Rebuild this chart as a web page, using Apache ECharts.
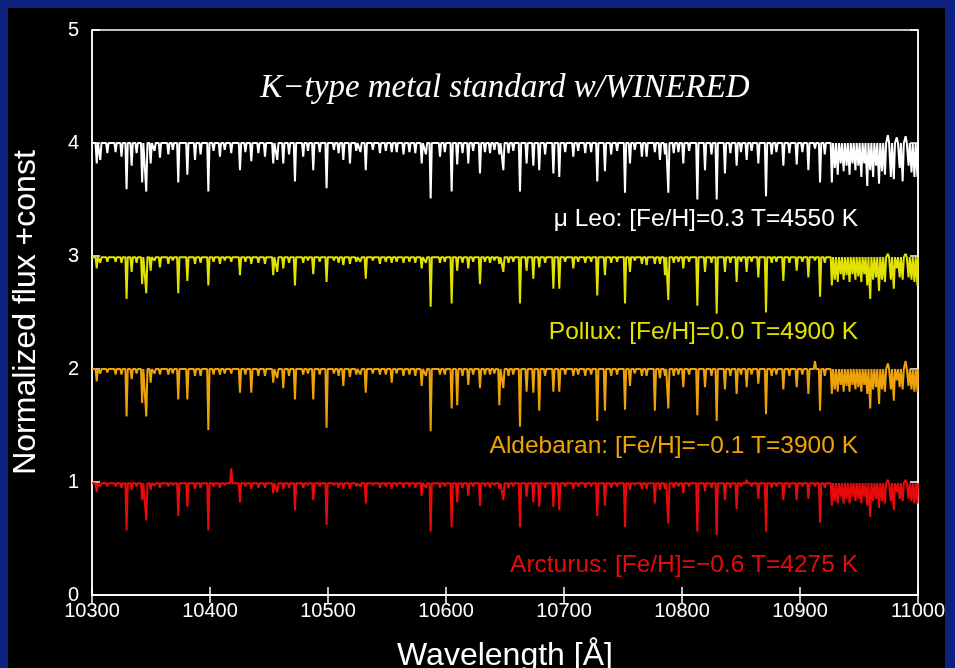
<!DOCTYPE html>
<html><head><meta charset="utf-8">
<script src="https://cdn.jsdelivr.net/npm/echarts/dist/echarts.min.js"></script>
<style>html,body{margin:0;padding:0;background:#0c2080;}#c{position:absolute;left:0;top:0;width:955px;height:668px;}</style>
</head><body><div id="c"></div><script>
// x ticks and y ticks
const xTicks = [10300,10400,10500,10600,10700,10800,10900,11000];
const yTicks = [0,1,2,3,4,5];
// star names / labels
const starLabels = ["\u03bc Leo: [Fe/H]=0.3 T=4550 K","Pollux: [Fe/H]=0.0 T=4900 K","Aldebaran: [Fe/H]=\u22120.1 T=3900 K","Arcturus: [Fe/H]=\u22120.6 T=4275 K"];
const starColors = ["#ffffff","#e2e200","#eea20a","#e80a0a"];
const continuum = [4.0, 2.99, 2.0, 0.99];
// main absorption lines (Angstrom)
const lineWl = [10304,10307,10313,10325,10329.3,10333.6,10337.8,10342.5,10346,10349.7,
 10357.6,10364.7,10373.1,10380.8,10387.3,10398.6,10408.4,10418,10425.4,10435,
 10446.6,10453.6,10457,10462.1,10472,10479,10487.5,10498.8,10513,10518.6,
 10532,10544,10554,10558.2,10579.4,10587,10594.9,10604.8,10609.5,10618.9,
 10628.8,10637.3,10645.2,10648.6,10662.7,10668.3,10674,10679,10691,10696,
 10707.9,10728.2,10734.7,10751.7,10755.9,10766,10770,10777,10781.3,10785.6,
 10788.4,10801.1,10813,10819.5,10829.4,10836.4,10846.3,10854.8,10864.7,10871.2,
 10885.9,10897.2,10907.1,10912.7,10917];
const depthMuLeo = [0.18,0.15,0.09,0.12,0.41,0.20,0.09,0.35,0.43,0.18,
 0.13,0.10,0.35,0.28,0.15,0.43,0.12,0.09,0.24,0.16,
 0.12,0.18,0.15,0.18,0.34,0.12,0.24,0.40,0.15,0.18,
 0.24,0.09,0.08,0.08,0.18,0.49,0.12,0.43,0.19,0.18,
 0.27,0.09,0.10,0.24,0.43,0.18,0.20,0.24,0.27,0.30,
 0.12,0.34,0.25,0.44,0.18,0.12,0.12,0.08,0.15,0.10,
 0.44,0.18,0.50,0.24,0.50,0.27,0.20,0.15,0.18,0.47,
 0.20,0.19,0.24,0.05,0.35];
const depthPollux = [0.10,0.05,0.04,0.05,0.37,0.13,0.05,0.24,0.32,0.12,
 0.09,0.06,0.32,0.21,0.06,0.25,0.06,0.04,0.16,0.06,
 0.06,0.16,0.13,0.10,0.25,0.05,0.15,0.22,0.07,0.06,
 0.19,0.06,0.05,0.04,0.10,0.44,0.05,0.41,0.12,0.10,
 0.24,0.05,0.06,0.13,0.41,0.12,0.19,0.09,0.28,0.28,
 0.10,0.34,0.16,0.41,0.13,0.06,0.07,0.06,0.06,0.16,
 0.38,0.10,0.43,0.13,0.50,0.13,0.22,0.13,0.18,0.49,
 0.21,0.12,0.18,0.03,0.35];
const depthAldebaran = [0.11,0.04,0.03,0.05,0.42,0.09,0.04,0.30,0.42,0.12,
 0.05,0.05,0.27,0.27,0.06,0.54,0.05,0.04,0.21,0.21,
 0.06,0.12,0.08,0.17,0.27,0.05,0.27,0.52,0.15,0.07,
 0.21,0.05,0.12,0.04,0.15,0.55,0.05,0.35,0.32,0.14,
 0.17,0.05,0.32,0.17,0.51,0.20,0.21,0.37,0.20,0.20,
 0.06,0.46,0.37,0.36,0.15,0.06,0.06,0.37,0.08,0.06,
 0.35,0.16,0.41,0.16,0.46,0.18,0.22,0.16,0.13,0.40,
 0.18,0.16,0.22,-0.07,0.37];
const depthArcturus = [0.08,0.03,0.03,0.04,0.42,0.06,0.03,0.15,0.33,0.06,
 0.04,0.03,0.29,0.21,0.05,0.42,0.04,-0.13,0.17,0.05,
 0.04,0.09,0.08,0.05,0.24,0.04,0.15,0.37,0.05,0.05,
 0.18,0.04,0.05,0.03,0.11,0.43,0.04,0.39,0.17,0.11,
 0.20,0.04,0.05,0.15,0.39,0.12,0.17,0.21,0.21,0.24,
 0.05,0.29,0.20,0.39,0.06,0.05,0.05,0.18,0.06,0.05,
 0.36,0.09,0.43,0.07,0.46,0.15,0.23,-0.03,0.14,0.43,
 0.15,0.15,0.14,0.03,0.35];
// weak lines in the continuum
const weakWl = [10320,10353,10368.5,10392,10403,10412.5,10430,10441,
 10467,10483,10493,10505,10509,10524,10527.5,10538,
 10549,10564,10569,10574,10583,10599,10614,10623,
 10633,10641,10653,10657,10684,10701,10712,10718,
 10723,10740,10745,10760,10793,10797,10806,10825,
 10841,10850,10859,10876,10880,10891,10902,10921];
const weakMuLeo = [0.08,0.07,0.06,0.10,0.07,0.06,0.08,0.09, 0.10,0.07,0.08,0.06,0.09,0.07,0.08,0.06,
 0.07,0.10,0.08,0.09,0.10,0.08,0.09,0.07, 0.08,0.06,0.09,0.07,0.10,0.08,0.07,0.09,
 0.08,0.10,0.07,0.06,0.09,0.08,0.07,0.10, 0.09,0.08,0.07,0.10,0.08,0.09,0.08,0.10];
const weakPollux = [0.04,0.03,0.03,0.05,0.04,0.03,0.04,0.05, 0.05,0.03,0.04,0.03,0.05,0.04,0.04,0.03,
 0.04,0.05,0.04,0.05,0.05,0.04,0.05,0.04, 0.04,0.03,0.05,0.04,0.05,0.04,0.04,0.05,
 0.04,0.05,0.04,0.03,0.05,0.04,0.04,0.05, 0.05,0.04,0.04,0.05,0.04,0.05,0.04,0.05];
const weakAldebaran = [0.05,0.04,0.04,0.06,0.05,0.04,0.05,0.06, 0.06,0.04,0.05,0.04,0.06,0.05,0.05,0.04,
 0.05,0.06,0.05,0.06,0.06,0.05,0.06,0.05, 0.05,0.04,0.06,0.05,0.06,0.05,0.05,0.06,
 0.05,0.06,0.05,0.04,0.06,0.05,0.05,0.06, 0.06,0.05,0.05,0.06,0.05,0.06,0.05,0.06];
const weakArcturus = [0.03,0.02,0.02,0.04,0.03,0.02,0.03,0.04, 0.04,0.02,0.03,0.02,0.04,0.03,0.03,0.02,
 0.03,0.04,0.03,0.04,0.04,0.03,0.04,0.03, 0.03,0.02,0.04,0.03,0.04,0.03,0.03,0.04,
 0.03,0.04,0.03,0.02,0.04,0.03,0.03,0.04, 0.04,0.03,0.03,0.04,0.03,0.04,0.03,0.04];
// dense (telluric/CN) forest beyond 10925 A
const forestWl = [10927,10929.5,10932,10934.5,10937,10939.5,10942,10944.5,10947,10949.5,
 10952,10954.5,10957,10959.5,10962,10964.5,10967,10969.5,10972,10974.5,
 10977,10979.5,10982,10984.5,10987,10989.5,10992,10994.5,10997,10999.5];
const forestMuLeo = [0.35,0.22,0.28,0.18,0.25,0.20,0.28,0.18,0.24,0.20,
 0.30,0.18,0.38,0.24,0.30,0.20,0.36,0.25,0.28,-0.07,
 0.30,0.32,-0.05,0.22,0.34,-0.06,0.20,0.26,0.30,0.30];
const forestPollux = [0.25,0.20,0.22,0.15,0.20,0.16,0.22,0.15,0.20,0.17,
 0.22,0.15,0.25,0.37,0.20,0.18,0.30,0.20,0.22,-0.03,
 0.20,0.28,0.10,0.18,0.20,-0.03,0.18,0.20,0.22,0.25];
const forestAldebaran = [0.22,0.18,0.20,0.14,0.20,0.15,0.20,0.14,0.18,0.16,
 0.20,0.14,0.22,0.35,0.18,0.16,0.31,0.18,0.20,-0.05,
 0.18,0.28,0.10,0.16,0.18,-0.07,0.15,0.18,0.20,0.20];
const forestArcturus = [0.20,0.16,0.18,0.12,0.18,0.14,0.18,0.12,0.16,0.14,
 0.18,0.12,0.20,0.30,0.16,0.14,0.22,0.16,0.18,-0.03,
 0.16,0.24,0.08,0.14,0.16,-0.03,0.14,0.16,0.18,0.18];

const mainDepths = [depthMuLeo, depthPollux, depthAldebaran, depthArcturus];
const weakDepths = [weakMuLeo, weakPollux, weakAldebaran, weakArcturus];
const forestDepths = [forestMuLeo, forestPollux, forestAldebaran, forestArcturus];

const HW = 1.0; // half width of a line profile in Angstrom (drawing style)
function buildSpectrum(k){
  const base = continuum[k];
  const feats = [];
  lineWl.forEach((w,i)=>feats.push([w, mainDepths[k][i]]));
  weakWl.forEach((w,i)=>feats.push([w, weakDepths[k][i]]));
  forestWl.forEach((w,i)=>feats.push([w, forestDepths[k][i]]));
  feats.sort((a,b)=>a[0]-b[0]);
  const pts = [[10300, base]];
  feats.forEach(([w,d])=>{
    pts.push([w-HW, base],[w, base-d],[Math.min(w+HW,11000), base]);
  });
  pts.push([11000, base]);
  return pts;
}

const FONT = '"Liberation Sans", Arial, sans-serif';
const chart = echarts.init(document.getElementById('c'), null, {renderer:'canvas'});
const axisLine = {show:true, lineStyle:{color:'#ffffff', width:1.5}};
const tick = {show:true, inside:true, length:8, lineStyle:{color:'#ffffff', width:1.5}};
const option = {
  backgroundColor:'#0c2080',
  animation:false,
  grid:{left:92, right:37, top:30, bottom:73, containLabel:false, outerBoundsMode:'none',
        show:true, borderColor:'#ffffff', borderWidth:1.5, backgroundColor:'#000'},
  graphic:[
    {type:'rect', z:-100, shape:{x:8,y:8,width:937,height:660}, style:{fill:'#000'}},
    {type:'text', z:100, style:{text:'K\u2212type metal standard w/WINERED', x:505, y:88, fill:'#ffffff',
      font:'italic 33px "Liberation Serif", "Times New Roman", serif', textAlign:'center', textVerticalAlign:'middle'}},
    ...starLabels.map((t,k)=>({type:'text', z:100, style:{text:t, x:858, y:[219,332,446,565][k], fill:starColors[k],
      font:'24.5px '+FONT, textAlign:'right', textVerticalAlign:'middle'}}))
  ],
  xAxis:[
    {type:'value', position:'bottom', min:10300, max:11000, interval:100,
     axisLine, axisTick:tick, splitLine:{show:false},
     axisLabel:{color:'#ffffff', fontSize:20, fontFamily:FONT, margin:6, formatter:v=>String(v)},
     name:'Wavelength [\u00c5]', nameLocation:'middle', nameGap:45,
     nameTextStyle:{color:'#ffffff', fontSize:32, fontFamily:FONT}},
    {type:'value', position:'top', min:10300, max:11000, interval:100,
     axisLine, axisTick:tick, splitLine:{show:false}, axisLabel:{show:false}}
  ],
  yAxis:[
    {type:'value', position:'left', min:0, max:5, interval:1,
     axisLine, axisTick:tick, splitLine:{show:false},
     axisLabel:{color:'#ffffff', fontSize:20, fontFamily:FONT, margin:13},
     name:'Normalized flux +const', nameLocation:'middle', nameGap:50, nameRotate:90,
     nameTextStyle:{color:'#ffffff', fontSize:32, fontFamily:FONT}},
    {type:'value', position:'right', min:0, max:5, interval:1,
     axisLine, axisTick:tick, splitLine:{show:false}, axisLabel:{show:false}}
  ],
  series: starLabels.map((name,k)=>({
    type:'line', name, data:buildSpectrum(k), showSymbol:false, symbol:'none',
    lineStyle:{color:starColors[k], width:2}, itemStyle:{color:starColors[k]},
    z:10-k, silent:true
  }))
};
chart.setOption(option);
</script></body></html>
